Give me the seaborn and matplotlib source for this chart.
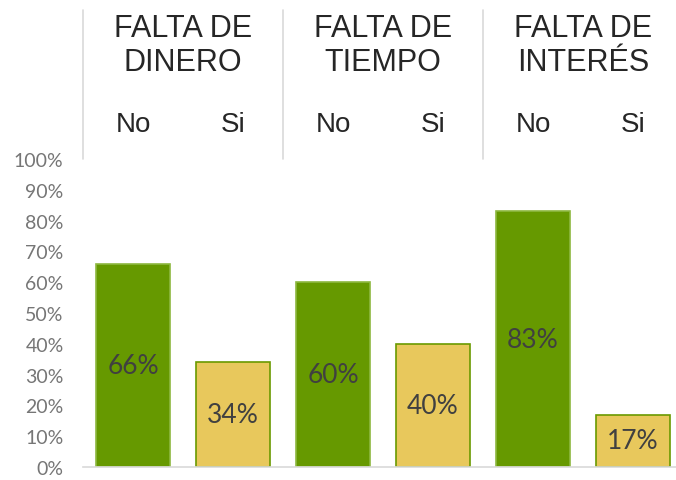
import pandas as pd
import seaborn as sns
import matplotlib.pyplot as plt
from matplotlib.ticker import PercentFormatter

# data
groups = ["FALTA DE\nDINERO", "FALTA DE\nTIEMPO", "FALTA DE\nINTERÉS"]
answers = ["No", "Si"]
no_vals = [66, 60, 83]
si_vals = [34, 40, 17]
yticks = list(range(0, 101, 10))

rows = []
for g, n, s in zip(groups, no_vals, si_vals):
    rows.append((g, "No", n))
    rows.append((g, "Si", s))
df = pd.DataFrame(rows, columns=["grupo", "respuesta", "valor"])
df["pos"] = [f"{i}" for i in range(len(df))]

sns.set_style("white")
plt.rcParams["font.family"] = ["Liberation Sans", "DejaVu Sans"]

green = "#669900"
yellow = "#E8C85C"
colors = [green if r == "No" else yellow for r in df["respuesta"]]
edges = ["#8DB840" if r == "No" else "#6A9A00" for r in df["respuesta"]]

fig = plt.figure(figsize=(6.76, 4.81), dpi=100)
ax = fig.add_axes([83 / 676, 13 / 481, (676 - 83) / 676, 308 / 481])

sns.barplot(data=df, x="pos", y="valor", hue="pos", palette=colors,
            legend=False, width=0.74, ax=ax, saturation=1)
for bar, ec in zip(ax.patches, edges):
    bar.set_edgecolor(ec)
    bar.set_linewidth(1.2)
    h = bar.get_height()
    ax.text(bar.get_x() + bar.get_width() / 2, h / 2, f"{h:.0f}%",
            ha="center", va="center", fontsize=19, color="#404040",
            family=["Lato", "DejaVu Sans"])

ax.set_xlim(-0.5, 5.43)
ax.set_ylim(0, 100)
ax.set_yticks(yticks)
ax.yaxis.set_major_formatter(PercentFormatter(decimals=0))
ax.tick_params(axis="y", length=0, labelsize=14, labelcolor="#767676", pad=14)
for lab in ax.get_yticklabels():
    lab.set_family(["Lato", "DejaVu Sans"])
ax.set_xticks([])
ax.set_xlabel("")
ax.set_ylabel("")
for side in ["top", "right", "left"]:
    ax.spines[side].set_visible(False)
ax.spines["bottom"].set_color("#D9D9D9")
ax.spines["bottom"].set_linewidth(1.2)

# header area above the plot
trans = ax.get_xaxis_transform()
for i, g in enumerate(groups):
    ax.text(2 * i + 0.5, 1.37, g, transform=trans, ha="center", va="center",
            fontsize=22, color="#262626", linespacing=1.2, clip_on=False)
    for j, a in enumerate(answers):
        ax.text(2 * i + j, 1.115, a, transform=trans, ha="center", va="center",
                fontsize=20, color="#262626", clip_on=False)
    ax.plot([2 * i - 0.5, 2 * i - 0.5], [1.0, 1.485], transform=trans,
            color="#D9D9D9", lw=1.2, clip_on=False)

fig.savefig("out.png", dpi=100)
